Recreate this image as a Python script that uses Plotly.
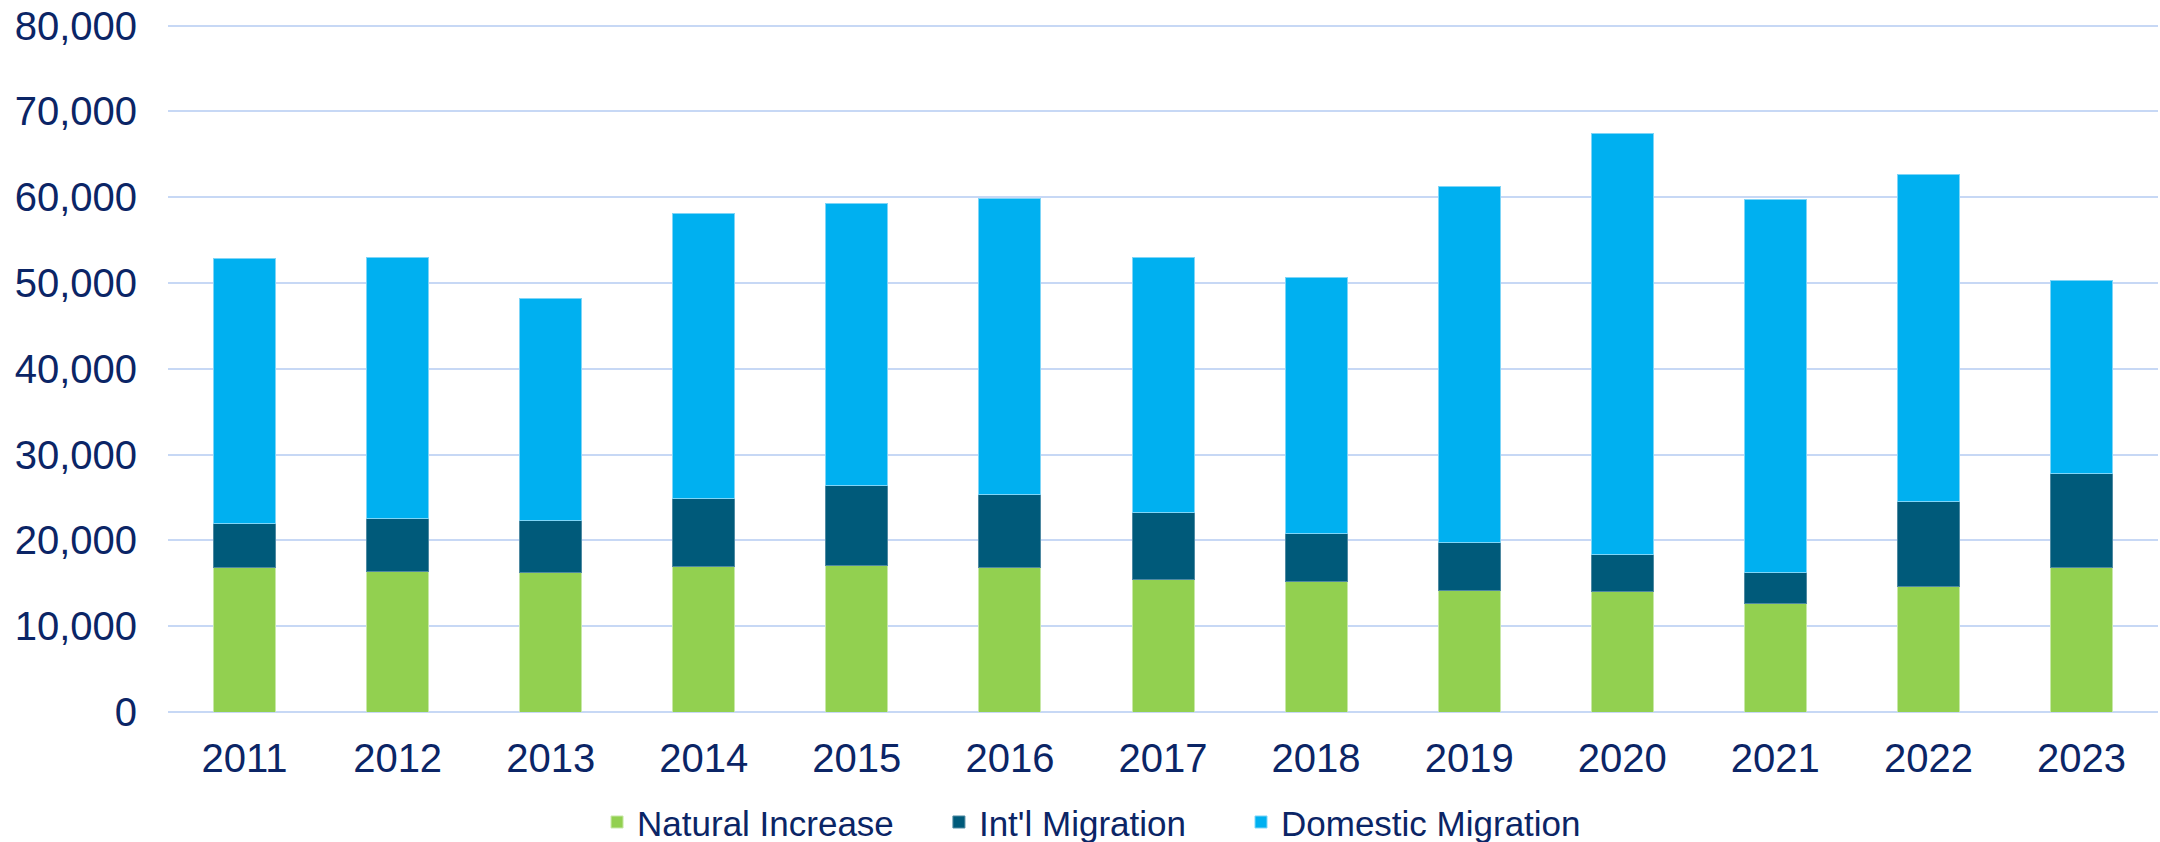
import plotly.graph_objects as go

years = ["2011", "2012", "2013", "2014", "2015", "2016", "2017", "2018", "2019", "2020", "2021", "2022", "2023"]
natural_increase = [16800, 16400, 16300, 16900, 17100, 16800, 15500, 15200, 14200, 14000, 12600, 14600, 16800]
intl_migration = [5200, 6100, 6000, 8000, 9300, 8600, 7800, 5600, 5500, 4400, 3700, 9950, 11050]
domestic_migration = [30850, 30500, 25900, 33250, 32900, 34400, 29650, 29800, 41550, 49000, 43450, 38100, 22400]
y_ticks = [0, 10000, 20000, 30000, 40000, 50000, 60000, 70000, 80000]

TEXT = "#0B2566"
GRID = "#C7D8F5"
FONT = "Liberation Sans, Arial, sans-serif"

fig = go.Figure()
fig.add_trace(go.Bar(x=years, y=natural_increase, name="Natural Increase", legend="legend",
                     marker=dict(color="#92D050", line=dict(color="#C8E8A8", width=1))))
fig.add_trace(go.Bar(x=years, y=intl_migration, name="Int'l Migration", legend="legend2",
                     marker=dict(color="#005A7A", line=dict(color="#4F8AA2", width=1))))
fig.add_trace(go.Bar(x=years, y=domestic_migration, name="Domestic Migration", legend="legend3",
                     marker=dict(color="#00B0F0", line=dict(color="#7FD5F7", width=1))))

leg_common = dict(orientation="h", xanchor="left", y=-0.160, yanchor="middle",
                  font=dict(size=35, color=TEXT), itemclick=False, bgcolor="rgba(0,0,0,0)")

fig.update_layout(
    barmode="stack",
    bargap=0.595,
    width=2160, height=854,
    margin=dict(l=168, r=2, t=23, b=131),
    paper_bgcolor="white", plot_bgcolor="white",
    font=dict(family=FONT, color=TEXT, size=40),
    showlegend=True,
    legend=dict(x=0.2156, **leg_common),
    legend2=dict(x=0.3874, **leg_common),
    legend3=dict(x=0.5392, **leg_common),
    xaxis=dict(showgrid=False, showline=False, ticks="", tickfont=dict(size=40, color=TEXT),
               ticklabelstandoff=19, automargin=False),
    yaxis=dict(range=[0, 80300], tickvals=y_ticks, tickformat=",d", showgrid=True,
               gridcolor=GRID, gridwidth=2, zeroline=True, zerolinecolor=GRID, zerolinewidth=2,
               showline=False, ticks="", tickfont=dict(size=40, color=TEXT),
               ticklabelstandoff=30, automargin=False),
)

page_css = (
    "document.documentElement.style.margin='0';"
    "document.body.style.margin='0';"
    "document.documentElement.style.overflow='hidden';"
    "document.body.style.overflow='hidden';"
)

fig.write_html("out.html", config={"displayModeBar": False}, post_script=page_css)
